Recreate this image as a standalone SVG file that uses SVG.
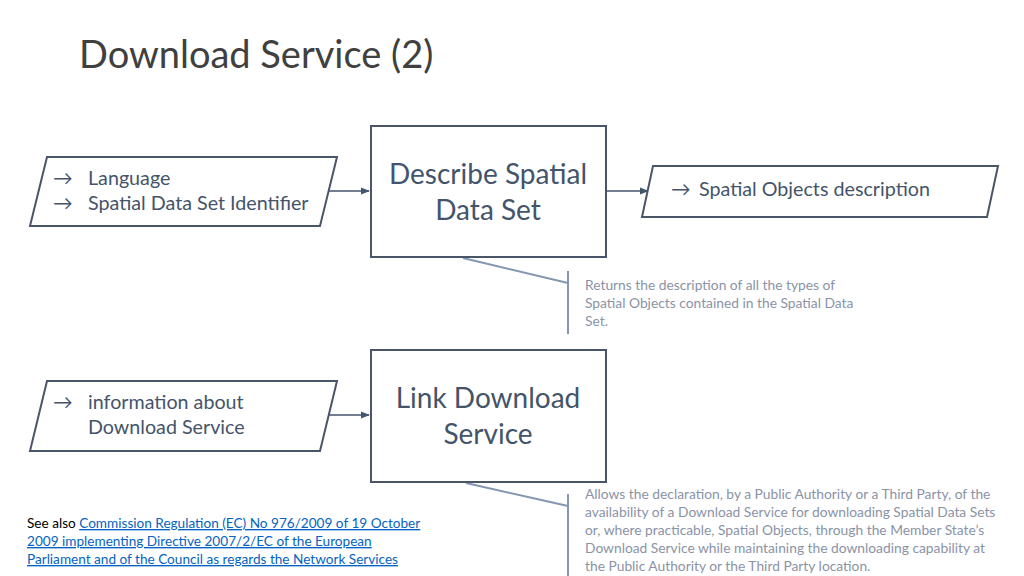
<svg xmlns="http://www.w3.org/2000/svg" width="1024" height="576" viewBox="0 0 1024 576">
<defs>
<style>
.t{font-family:Lato,"Open Sans","DejaVu Sans",sans-serif;}
.title{font-size:38px;fill:#404040;}
.shape{fill:#ffffff;stroke:#4a5568;stroke-width:2;}
.lbl{font-size:19.7px;fill:#44546a;}
.big{font-size:28px;fill:#44546a;text-anchor:middle;}
.note{font-size:13.8px;fill:#8a93a6;}
.conn{stroke:#44546a;stroke-width:1.5;fill:none;}
.call{stroke:#8496b0;stroke-width:2;fill:none;}
.see{font-size:13.6px;fill:#000;}
.link{fill:#0563c1;text-decoration:underline;}
</style>
<marker id="ah" viewBox="0 0 10 10" refX="9" refY="5" markerWidth="6" markerHeight="6" orient="auto"><path d="M0,1 L10,5 L0,9 z" fill="#44546a"/></marker>
</defs>
<rect width="1024" height="576" fill="#ffffff"/>
<text class="t title" x="79" y="68">Download Service (2)</text>

<g id="connectors">
<line class="conn" x1="321" y1="191" x2="369" y2="191" marker-end="url(#ah)"/>
<line class="conn" x1="607" y1="191" x2="648" y2="191" marker-end="url(#ah)"/>
<line class="conn" x1="321" y1="415" x2="369" y2="415" marker-end="url(#ah)"/>
<polyline class="call" points="463,258 568,283"/>
<line class="call" x1="568" y1="271" x2="568" y2="334"/>
<polyline class="call" points="466,483 568,506"/>
<line class="call" x1="568" y1="494" x2="568" y2="576"/>
</g>

<g id="in1">
<polygon class="shape" points="47,157 337,157 320,226 30,226"/>
<text class="t lbl" x="53" y="185">→</text>
<text class="t lbl" x="88" y="185">Language</text>
<text class="t lbl" x="53" y="210">→</text>
<text class="t lbl" x="88" y="210">Spatial Data Set Identifier</text>
</g>

<g id="box1">
<rect class="shape" x="371" y="126" width="235" height="131"/>
<text class="t big" x="488" y="184">Describe Spatial</text>
<text class="t big" x="488" y="220">Data Set</text>
</g>

<g id="out1">
<polygon class="shape" points="653,166 998,166 987,217 642,217"/>
<text class="t lbl" x="671" y="196">→</text>
<text class="t lbl" x="699" y="196">Spatial Objects description</text>
</g>

<g id="note1">
<text class="t note" x="585" y="290">Returns the description of all the types of</text>
<text class="t note" x="585" y="308">Spatial Objects contained in the Spatial Data</text>
<text class="t note" x="585" y="326">Set.</text>
</g>

<g id="in2">
<polygon class="shape" points="47,381 337,381 320,451 30,451"/>
<text class="t lbl" x="53" y="409">→</text>
<text class="t lbl" x="88" y="409">information about</text>
<text class="t lbl" x="88" y="434">Download Service</text>
</g>

<g id="box2">
<rect class="shape" x="371" y="350" width="235" height="132"/>
<text class="t big" x="488" y="408">Link Download</text>
<text class="t big" x="488" y="444">Service</text>
</g>

<g id="note2">
<text class="t note" x="585" y="499">Allows the declaration, by a Public Authority or a Third Party, of the</text>
<text class="t note" x="585" y="517">availability of a Download Service for downloading Spatial Data Sets</text>
<text class="t note" x="585" y="535">or, where practicable, Spatial Objects, through the Member State’s</text>
<text class="t note" x="585" y="553">Download Service while maintaining the downloading capability at</text>
<text class="t note" x="585" y="571">the Public Authority or the Third Party location.</text>
</g>

<g id="seealso">
<text class="t see" x="27" y="528">See also <tspan class="link">Commission Regulation (EC) No 976/2009 of 19 October</tspan></text>
<text class="t see link" x="27" y="546">2009 implementing Directive 2007/2/EC of the European</text>
<text class="t see link" x="27" y="564">Parliament and of the Council as regards the Network Services</text>
</g>
</svg>
